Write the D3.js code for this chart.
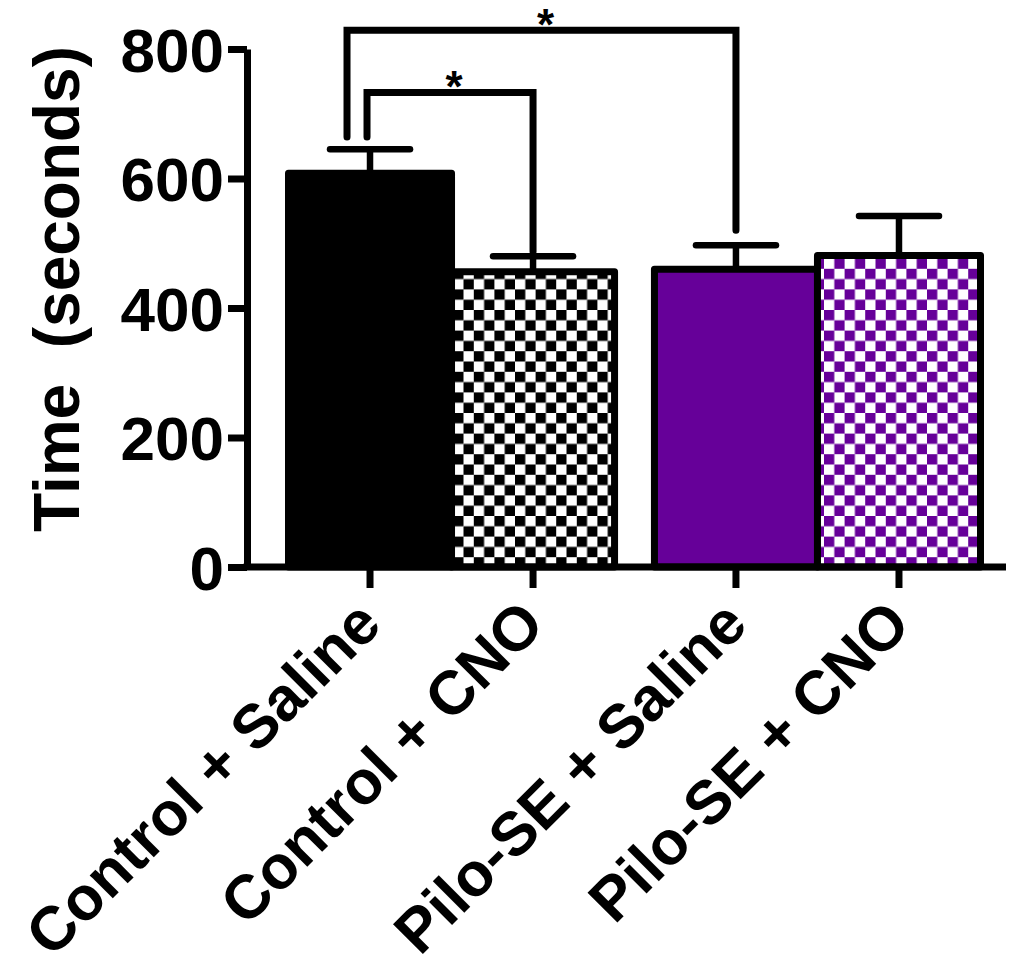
<!DOCTYPE html>
<html>
<head>
<meta charset="utf-8">
<script src="https://cdn.jsdelivr.net/npm/d3@7"></script>
<style>
  html, body { margin: 0; padding: 0; background: #fff; }
  svg { display: block; }
  text { font-family: "Liberation Sans", Arial, Helvetica, sans-serif; }
</style>
</head>
<body>
<script>
// ---- data ----
const groups = ["Control", "Pilo-SE"];
const treatments = ["Saline", "CNO"];
const categories = ["Control + Saline", "Control + CNO", "Pilo-SE + Saline", "Pilo-SE + CNO"];
const categoryGroup = ["Control", "Control", "Pilo-SE", "Pilo-SE"];
const categoryTreatment = ["Saline", "CNO", "Saline", "CNO"];
const means = [608, 456, 460, 481];
const sems = [37, 24, 37, 61];
const yTicks = [0, 200, 400, 600, 800];
const yTitle = "Time  (seconds)";
// significance brackets (indices into categories, values in seconds)
const bracketFrom = [0, 0];
const bracketTo = [1, 2];
const bracketTop = [733, 829];
const bracketLeftEnd = [664, 664];
const bracketRightEnd = [487, 520];
const bracketLabel = ["*", "*"];

// ---- layout ----
const W = 1013, H = 972;
const LW = 7;
const purple = "#660099";

const svg = d3.select("body").append("svg").attr("width", W).attr("height", H);

const y = d3.scaleLinear().domain([0, 800]).range([567, 49]);
const x0 = d3.scaleBand().domain(groups).range([288.5, 980.5]).paddingInner(0.109).paddingOuter(0);
const x1 = d3.scaleBand().domain(treatments).range([0, x0.bandwidth()]).padding(0);
const xLeft = i => x0(categoryGroup[i]) + x1(categoryTreatment[i]);
const xMid = i => xLeft(i) + x1.bandwidth() / 2;

// patterns
const defs = svg.append("defs");
function checker(id, color) {
  const s = 10.3;
  const p = defs.append("pattern").attr("id", id).attr("patternUnits", "userSpaceOnUse")
    .attr("width", 2 * s).attr("height", 2 * s).attr("x", 0).attr("y", 1);
  p.append("rect").attr("width", 2 * s).attr("height", 2 * s).attr("fill", "#fff");
  p.append("rect").attr("width", s).attr("height", s).attr("fill", color);
  p.append("rect").attr("x", s).attr("y", s).attr("width", s).attr("height", s).attr("fill", color);
}
checker("chkBlack", "#000");
checker("chkPurple", purple);
const fills = ["#000", "url(#chkBlack)", purple, "url(#chkPurple)"];

// bars
svg.append("g").selectAll("rect").data(categories).join("rect")
  .attr("x", (d, i) => xLeft(i))
  .attr("width", x1.bandwidth())
  .attr("y", (d, i) => y(means[i]))
  .attr("height", (d, i) => y(0) - y(means[i]))
  .attr("fill", (d, i) => fills[i])
  .attr("stroke", "#000")
  .attr("stroke-width", LW)
  .attr("stroke-linejoin", "round");

// error bars
const eb = svg.append("g").attr("stroke", "#000").attr("stroke-width", 6.5).attr("stroke-linecap", "round");
eb.selectAll("line.v").data(categories).join("line").attr("class", "v")
  .attr("x1", (d, i) => xMid(i)).attr("x2", (d, i) => xMid(i))
  .attr("y1", (d, i) => y(means[i])).attr("y2", (d, i) => y(means[i] + sems[i]))
  .attr("stroke-linecap", "butt");
eb.selectAll("line.c").data(categories).join("line").attr("class", "c")
  .attr("x1", (d, i) => xMid(i) - 40).attr("x2", (d, i) => xMid(i) + 40)
  .attr("y1", (d, i) => y(means[i] + sems[i])).attr("y2", (d, i) => y(means[i] + sems[i]));

// y axis
const yAxis = svg.append("g").attr("transform", "translate(247,0)")
  .call(d3.axisLeft(y).tickValues(yTicks).tickSize(19).tickSizeOuter(0).tickPadding(4).tickFormat(d3.format("d")));
yAxis.select(".domain").attr("stroke", "#000").attr("stroke-width", LW);
yAxis.selectAll(".tick line").attr("stroke", "#000").attr("stroke-width", LW);
yAxis.selectAll(".tick text").attr("fill", "#000").attr("font-size", 62).attr("font-weight", "bold")
  .attr("font-family", "'Liberation Sans', Arial, sans-serif").attr("dy", "0.36em");

// x axis
const xa = svg.append("g");
xa.append("line").attr("x1", 243.5).attr("x2", 1006).attr("y1", y(0)).attr("y2", y(0))
  .attr("stroke", "#000").attr("stroke-width", LW);
xa.selectAll("line.t").data(categories).join("line").attr("class", "t")
  .attr("x1", (d, i) => xMid(i)).attr("x2", (d, i) => xMid(i))
  .attr("y1", y(0)).attr("y2", y(0) + 21)
  .attr("stroke", "#000").attr("stroke-width", LW);
xa.selectAll("text").data(categories).join("text")
  .attr("transform", (d, i) => `translate(${xMid(i) + 14},${y(0) + 60}) rotate(-45)`)
  .attr("text-anchor", "end")
  .attr("font-size", 61.5).attr("font-weight", "bold").attr("fill", "#000")
  .text(d => d);

// y title
svg.append("text")
  .attr("transform", "translate(79,289) rotate(-90)")
  .attr("text-anchor", "middle")
  .attr("font-size", 64).attr("font-weight", "bold").attr("fill", "#000")
  .style("white-space", "pre")
  .text(yTitle);

// significance brackets
const br = svg.append("g");
bracketFrom.forEach((f, k) => {
  const t = bracketTo[k];
  const xl = k === 0 ? xMid(f) - 3 : xMid(f) - 23;
  const xr = xMid(t);
  const p = d3.path();
  p.moveTo(xl, y(bracketLeftEnd[k]));
  p.lineTo(xl, y(bracketTop[k]));
  p.lineTo(xr, y(bracketTop[k]));
  p.lineTo(xr, y(bracketRightEnd[k]));
  br.append("path").attr("d", p.toString()).attr("fill", "none").attr("stroke", "#000")
    .attr("stroke-width", LW).attr("stroke-linecap", "round").attr("stroke-linejoin", "miter");
  br.append("text").attr("x", (xl + xr) / 2 + 4).attr("y", y(bracketTop[k]) + 10)
    .attr("text-anchor", "middle").attr("font-size", 44).attr("font-weight", "bold").attr("fill", "#000")
    .text(bracketLabel[k]);
});
</script>
</body>
</html>
